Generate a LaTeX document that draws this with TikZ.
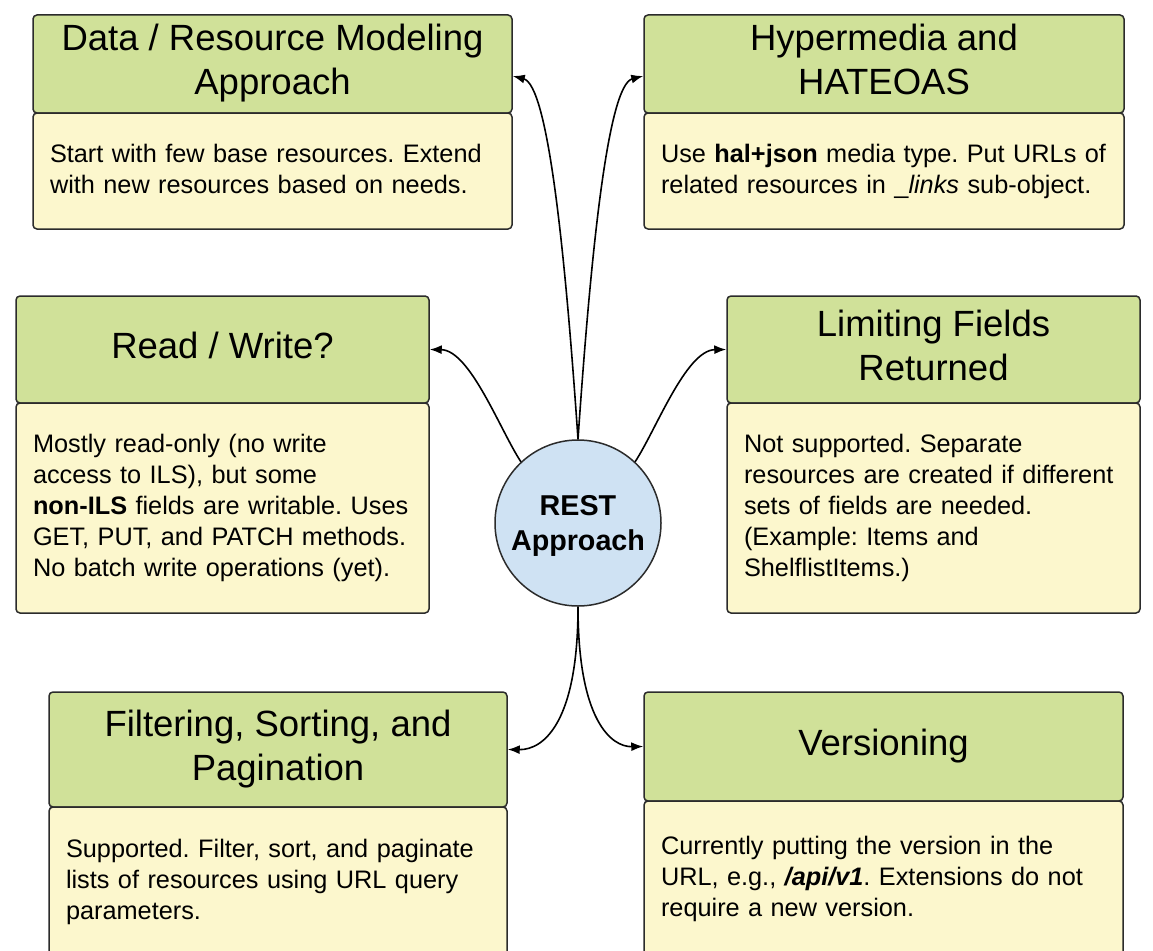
\documentclass[tikz,border=0pt]{standalone}
\usepackage{fontspec}
\setmainfont{Liberation Sans}
\frenchspacing
\usetikzlibrary{arrows.meta}
\definecolor{hdrgreen}{HTML}{D0E199}
\definecolor{bodyyel}{HTML}{FCF7CD}
\definecolor{circblue}{HTML}{CFE2F3}
\definecolor{edgegray}{HTML}{2B2B2B}
\newcommand\bl[1]{\mbox{#1}}
\tikzset{
 hdr/.style={draw=edgegray, fill=hdrgreen, line width=1.5pt, rounded corners=4pt, align=center,
   font=\fontsize{36.5}{44}\selectfont, inner sep=0pt},
 bodybox/.style={draw=edgegray, fill=bodyyel, line width=1.5pt, rounded corners=4pt, align=left,
   font=\fontsize{25.3}{31}\selectfont, inner xsep=17pt, inner ysep=0pt},
 hub/.style={circle, draw=edgegray, fill=circblue, line width=1.5pt, minimum size=166pt, inner sep=0pt,
   align=center, text depth=0pt, font=\bfseries\fontsize{28.7}{35}\selectfont},
 link/.style={draw=black, line width=1.6pt, -{Latex[length=12pt,width=9pt]}},
}
\begin{document}
\begin{tikzpicture}[x=1pt,y=-1pt]
\useasboundingbox (0,0) rectangle (1153,950);
\clip (0,0) rectangle (1153,950);

% Data / Resource Modeling
\node[hdr, minimum width=479pt, minimum height=98pt] (h1) at (272.5,64) {\strut Data / Resource Modeling\\Approach\strut};
\node[bodybox, minimum width=479pt, minimum height=116pt, text width=445pt] (b1) at (272.5,171)
 {\bl{Start with few base resources. Extend}\\\bl{with new resources based on needs.}\vphantom{p}};

% Hypermedia
\node[hdr, minimum width=480pt, minimum height=98pt] (h2) at (884,64) {\strut Hypermedia and\\HATEOAS\strut};
\node[bodybox, minimum width=480pt, minimum height=116pt, text width=446pt] (b2) at (884,171)
 {\bl{Use \textbf{hal+json} media type. Put URLs of}\\\bl{related resources in \_\textit{links} sub-object.}};

% Read / Write
\node[hdr, minimum width=413pt, minimum height=107pt] (h3) at (222.5,349.5) {\strut Read / Write?\strut};
\node[bodybox, minimum width=413pt, minimum height=210pt, text width=379pt] (b3) at (222.5,508)
 {\bl{Mostly read-only (no write}\\\bl{access to ILS), but some}\\\bl{\textbf{non-ILS} fields are writable. Uses}\\\bl{GET, PUT, and PATCH methods.}\\\bl{No batch write operations (yet).}};

% Limiting Fields
\node[hdr, minimum width=413pt, minimum height=107pt] (h4) at (933.5,349.5) {\strut Limiting Fields\\Returned\strut};
\node[bodybox, minimum width=413pt, minimum height=210pt, text width=379pt] (b4) at (933.5,508)
 {\bl{Not supported. Separate}\\\bl{resources are created if different}\\\bl{sets of fields are needed.}\\\bl{(Example: Items and}\\\bl{ShelflistItems.)}};

% Filtering
\node[hdr, minimum width=458pt, minimum height=115pt] (h5) at (278,749.5) {\strut Filtering, Sorting, and\\Pagination\strut};
\node[bodybox, minimum width=458pt, minimum height=150pt, text width=424pt] (b5) at (278,882)
 {\bl{Supported. Filter, sort, and paginate}\\\bl{lists of resources using URL query}\\\bl{parameters.}};

% Versioning
\node[hdr, minimum width=479pt, minimum height=109pt] (h6) at (883.5,746.5) {\strut Versioning\strut};
\node[bodybox, minimum width=479pt, minimum height=156pt, text width=445pt] (b6) at (883.5,879)
 {\bl{Currently putting the version in the}\\\bl{URL, e.g., \textbf{\textit{/api/v1}}. Extensions do not}\\\bl{require a new version.}};

% hub
\node[hub] (c) at (578,523) {REST\\Approach};

% connectors
\draw[link] (c.north) .. controls (565,250) and (548,85) .. ([yshift=-12pt]h1.east);
\draw[link] (c.north) .. controls (591,250) and (608,85) .. ([yshift=-12pt]h2.west);
\draw[link] (c.133) .. controls (500,430) and (470,350) .. (h3.east);
\draw[link] (c.47) .. controls (656,430) and (686,350) .. (h4.west);
\draw[link] (c.south) .. controls (578,720) and (545,750) .. (h5.east);
\draw[link] (c.south) .. controls (578,720) and (611,747) .. (h6.west);
\end{tikzpicture}
\end{document}
